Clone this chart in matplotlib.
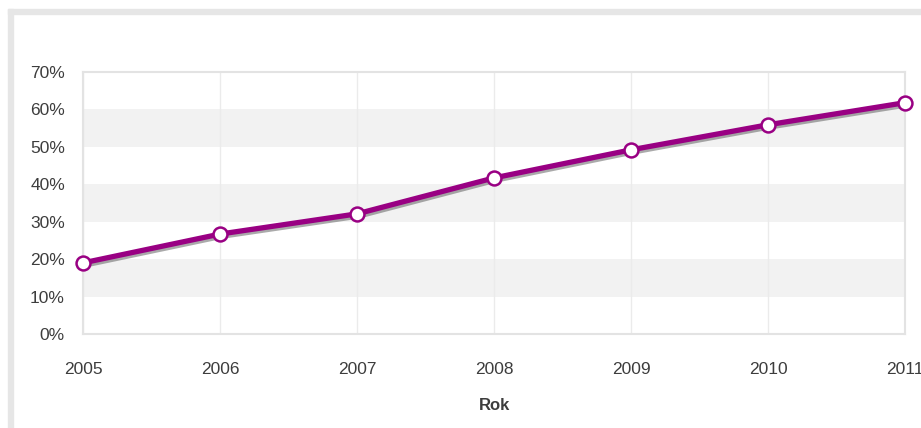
import matplotlib.pyplot as plt
import matplotlib.patheffects as pe
from matplotlib.patches import Rectangle

plt.rcParams['font.family'] = ['Liberation Sans', 'DejaVu Sans']

# data
years = [2005, 2006, 2007, 2008, 2009, 2010, 2011]
values = [19.0, 26.7, 32.1, 41.7, 49.2, 55.9, 61.8]
y_ticks = [0, 10, 20, 30, 40, 50, 60, 70]
bands = [(10, 20), (30, 40), (50, 60)]

W, H = 921, 428
fig = plt.figure(figsize=(W / 100, H / 100), dpi=100)
fig.patch.set_facecolor('white')

# light gray outer frame (top and left)
fig.patches.append(Rectangle((8 / W, 0), 5 / W, (H - 9) / H, transform=fig.transFigure,
                             color='#e6e6e6', zorder=0))
fig.patches.append(Rectangle((8 / W, (H - 14) / H), (W - 8) / W, 5 / H, transform=fig.transFigure,
                             color='#e6e6e6', zorder=0))

ax = fig.add_axes([83 / W, 94 / H, 822 / W, 262 / H])
ax.set_facecolor('white')

for lo, hi in bands:
    ax.axhspan(lo, hi, color='#f2f2f2', zorder=0, lw=0)

for yr in years:
    ax.axvline(yr, color='#ebebeb', lw=1, zorder=1)

# line with a soft shadow, then the markers on top
ax.plot(years, values, color='#990083', lw=3.8, clip_on=False, zorder=5,
        path_effects=[pe.SimpleLineShadow(offset=(1.2, -1.6), shadow_color='#444444', alpha=0.45),
                      pe.Normal()])
ax.plot(years, values, linestyle='none', marker='o', markersize=10,
        markerfacecolor='white', markeredgecolor='#990083', markeredgewidth=1.8,
        clip_on=False, zorder=6)

ax.set_xlim(2005, 2011)
ax.set_ylim(0, 70)
ax.set_yticks(y_ticks)
ax.set_yticklabels([f'{v}%' for v in y_ticks])
ax.set_xticks(years)
ax.set_xticklabels([str(y) for y in years])

for s in ax.spines.values():
    s.set_color('#e3e3e3')
    s.set_linewidth(1.5)

ax.tick_params(axis='both', length=0, labelsize=12.5, colors='#3d3d3d')
ax.tick_params(axis='y', pad=13)
ax.tick_params(axis='x', pad=20)

fig.text(494 / W, 1 - 405 / H, 'Rok', ha='center', va='center', fontsize=12,
         fontweight='bold', color='#3d3d3d')

fig.savefig('out.png', dpi=100)
